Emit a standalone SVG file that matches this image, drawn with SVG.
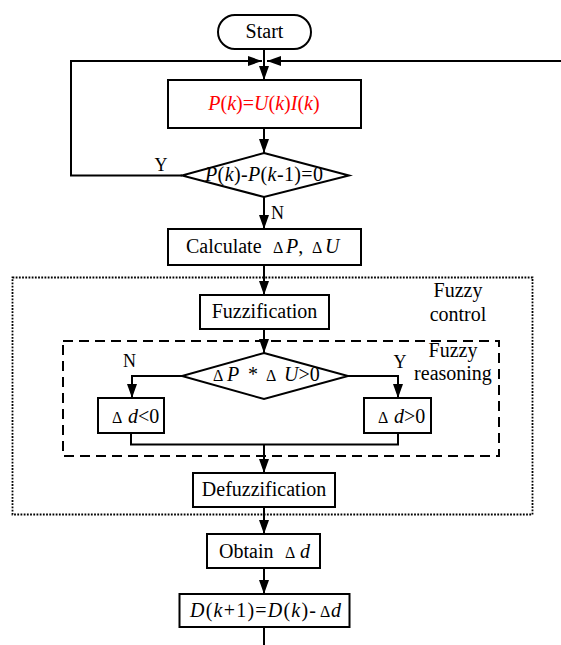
<svg xmlns="http://www.w3.org/2000/svg" width="561" height="645" viewBox="0 0 561 645" font-family="'Liberation Serif', 'Times New Roman', serif">
<style>
.box{fill:#fff;stroke:#000;stroke-width:2}
.ln{fill:none;stroke:#000;stroke-width:2}
.tx{font-family:'Liberation Serif','Times New Roman',serif;font-size:20px;fill:#000}
.lbl{font-family:'Liberation Serif','Times New Roman',serif;font-size:18px;fill:#000}
.red{fill:#f00}
.mid{text-anchor:middle}
.it{font-style:italic}
.dl{font-size:16px}
.dotted{fill:none;stroke:#000;stroke-width:1.8;stroke-dasharray:1.8 1.4}
.dashed{fill:none;stroke:#000;stroke-width:2;stroke-dasharray:10 6}
</style>
<defs>
<marker id="arr" markerUnits="userSpaceOnUse" markerWidth="14" markerHeight="10" refX="14" refY="5" orient="auto">
<path d="M0,0 L14,5 L0,10 z" fill="#000"/>
</marker>
</defs>

<g id="regions">
<rect id="fuzzy-control-region" class="dotted" x="12.5" y="277.5" width="520" height="237"/>
<text class="tx mid" x="458" y="297">Fuzzy</text>
<text class="tx mid" x="458" y="321">control</text>
<rect id="fuzzy-reasoning-region" class="dashed" x="63" y="341" width="436" height="115"/>
<text class="tx mid" x="453" y="357">Fuzzy</text>
<text class="tx mid" x="453" y="380">reasoning</text>
</g>

<g id="connectors">
<line class="ln" x1="264" y1="49" x2="264" y2="80" marker-end="url(#arr)"/>
<polyline class="ln" points="182,175.5 71,175.5 71,61 262,61" marker-end="url(#arr)"/>
<line class="ln" x1="561" y1="61" x2="267" y2="61" marker-end="url(#arr)"/>
<line class="ln" x1="264" y1="128" x2="264" y2="153" marker-end="url(#arr)"/>
<line class="ln" x1="264" y1="197" x2="264" y2="229" marker-end="url(#arr)"/>
<line class="ln" x1="264" y1="265" x2="264" y2="295" marker-end="url(#arr)"/>
<line class="ln" x1="264" y1="329" x2="264" y2="353" marker-end="url(#arr)"/>
<polyline class="ln" points="182,376 132,376 132,398" marker-end="url(#arr)"/>
<polyline class="ln" points="348,376 398,376 398,398" marker-end="url(#arr)"/>
<polyline class="ln" points="131,433 131,444.5 398,444.5 398,433"/>
<line class="ln" x1="264" y1="444" x2="264" y2="473" marker-end="url(#arr)"/>
<line class="ln" x1="264" y1="507" x2="264" y2="534" marker-end="url(#arr)"/>
<line class="ln" x1="264" y1="568" x2="264" y2="594" marker-end="url(#arr)"/>
<line class="ln" x1="264" y1="627" x2="264" y2="645"/>
<text class="lbl mid" x="161" y="171">Y</text>
<text class="lbl" x="271" y="219">N</text>
<text class="lbl mid" x="129.5" y="367">N</text>
<text class="lbl mid" x="400" y="368">Y</text>
</g>

<g id="start">
<rect class="box" x="218" y="15" width="93" height="34" rx="17"/>
<text class="tx mid" x="264.5" y="38">Start</text>
</g>

<g id="compute-power">
<rect class="box" x="168" y="80" width="193" height="48"/>
<text class="tx mid red" x="264" y="110"><tspan class="it">P</tspan>(<tspan class="it">k</tspan>)=<tspan class="it">U</tspan>(<tspan class="it">k</tspan>)<tspan class="it">I</tspan>(<tspan class="it">k</tspan>)</text>
</g>

<g id="decision-power-change">
<polygon class="box" points="264,153 349,175.5 264,197 182,175.5"/>
<text class="tx" x="205" y="181" textLength="118" lengthAdjust="spacing"><tspan class="it">P</tspan>(<tspan class="it">k</tspan>)-<tspan class="it">P</tspan>(<tspan class="it">k</tspan>-1)=0</text>
</g>

<g id="calculate">
<rect class="box" x="168" y="229" width="193" height="36"/>
<text class="tx" y="253"><tspan x="186">Calculate</tspan><tspan x="273" class="dl">Δ</tspan><tspan x="286" class="it">P</tspan>,<tspan x="312" class="dl">Δ</tspan><tspan x="325" class="it">U</tspan></text>
</g>

<g id="fuzzification">
<rect class="box" x="200" y="295" width="129" height="34"/>
<text class="tx mid" x="264.5" y="318">Fuzzification</text>
</g>

<g id="decision-sign">
<polygon class="box" points="264,353 348,376 264,399 182,376"/>
<text class="tx" y="381"><tspan x="213" class="dl">Δ</tspan><tspan x="227" class="it">P</tspan><tspan x="248">*</tspan><tspan x="266" class="dl">Δ</tspan><tspan x="284" class="it">U</tspan>&gt;0</text>
</g>

<g id="delta-negative">
<rect class="box" x="98" y="398" width="66" height="35"/>
<text class="tx" y="423"><tspan x="112" class="dl">Δ</tspan><tspan x="128" class="it">d</tspan>&lt;0</text>
</g>

<g id="delta-positive">
<rect class="box" x="364" y="398" width="67" height="35"/>
<text class="tx" y="423"><tspan x="378" class="dl">Δ</tspan><tspan x="394" class="it">d</tspan>&gt;0</text>
</g>

<g id="defuzzification">
<rect class="box" x="193" y="473" width="142" height="34"/>
<text class="tx mid" x="264" y="496">Defuzzification</text>
</g>

<g id="obtain">
<rect class="box" x="207" y="534" width="113" height="34"/>
<text class="tx" y="558"><tspan x="219">Obtain</tspan><tspan x="285" class="dl">Δ</tspan><tspan x="300" class="it">d</tspan></text>
</g>

<g id="update-duty">
<rect class="box" x="179.5" y="594" width="170" height="33"/>
<text class="tx" x="190" y="617" textLength="126" lengthAdjust="spacing"><tspan class="it">D</tspan>(<tspan class="it">k</tspan>+1)=<tspan class="it">D</tspan>(<tspan class="it">k</tspan>)-</text>
<text class="tx" y="617"><tspan x="320" class="dl">Δ</tspan><tspan x="331" class="it">d</tspan></text>
</g>
</svg>
